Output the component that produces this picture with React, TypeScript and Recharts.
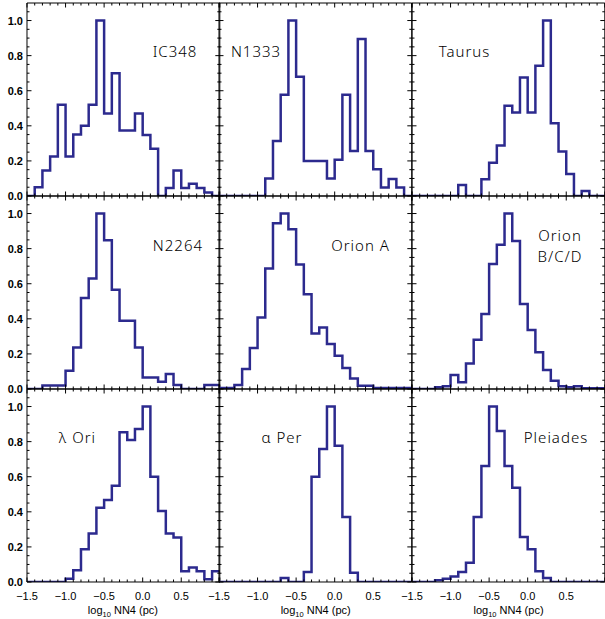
import React from 'react';
import { LineChart, Line, XAxis, YAxis } from 'recharts';

// Bin edges (log10 NN4, pc) — 25 bins of width 0.1 from -1.5 to 1.0
const BIN_EDGES = [-1.5, -1.4, -1.3, -1.2, -1.1, -1.0, -0.9, -0.8, -0.7, -0.6, -0.5, -0.4, -0.3, -0.2, -0.1, 0.0, 0.1, 0.2, 0.3, 0.4, 0.5, 0.6, 0.7, 0.8, 0.9, 1.0];

const X_TICKS = [-1.5, -1.4, -1.3, -1.2, -1.1, -1.0, -0.9, -0.8, -0.7, -0.6, -0.5, -0.4, -0.3, -0.2, -0.1, 0.0, 0.1, 0.2, 0.3, 0.4, 0.5, 0.6, 0.7, 0.8, 0.9, 1.0];
const Y_TICKS = [0, 0.05, 0.1, 0.15, 0.2, 0.25, 0.3, 0.35, 0.4, 0.45, 0.5, 0.55, 0.6, 0.65, 0.7, 0.75, 0.8, 0.85, 0.9, 0.95, 1.0, 1.05];
const X_DOMAIN = [-1.5, 1.0];
const Y_DOMAIN = [0, 1.1];

// Normalised histogram heights per region
const IC348 = [0, 0.05, 0.145, 0.225, 0.52, 0.225, 0.35, 0.40, 0.52, 1.0, 0.47, 0.70, 0.373, 0.373, 0.47, 0.347, 0.27, 0, 0.045, 0.145, 0.045, 0.07, 0.045, 0.02, 0];
const N1333 = [0, 0, 0, 0, 0, 0, 0.10, 0.314, 0.577, 1.0, 0.68, 0.2, 0.2, 0.2, 0.1, 0.206, 0.577, 0.257, 0.895, 0.257, 0.152, 0.048, 0.097, 0.048, 0];
const TAURUS = [0, 0, 0, 0, 0, 0, 0.063, 0, 0, 0.095, 0.19, 0.288, 0.514, 0.476, 0.676, 0.476, 0.743, 1.0, 0.415, 0.253, 0.126, 0, 0.029, 0, 0];
const N2264 = [0, 0, 0.02, 0.02, 0.02, 0.104, 0.237, 0.518, 0.63, 1.0, 0.848, 0.565, 0.389, 0.389, 0.237, 0.066, 0.066, 0.042, 0.085, 0.023, 0, 0, 0, 0.023, 0.023];
const ORION_A = [0.005, 0.005, 0.023, 0.114, 0.233, 0.408, 0.687, 0.945, 1.0, 0.91, 0.71, 0.54, 0.317, 0.351, 0.256, 0.19, 0.12, 0.06, 0.019, 0.019, 0.005, 0.005, 0.005, 0.005, 0.005];
const ORION_BCD = [0, 0, 0, 0.01, 0.015, 0.08, 0.038, 0.146, 0.28, 0.427, 0.712, 0.822, 1.0, 0.844, 0.484, 0.336, 0.209, 0.108, 0.047, 0.015, 0.01, 0.015, 0.004, 0.004, 0.004];
const LAMBDA_ORI = [0, 0, 0, 0, 0, 0.019, 0.067, 0.187, 0.276, 0.423, 0.467, 0.549, 0.853, 0.81, 0.872, 1.0, 0.6, 0.404, 0.276, 0.253, 0.061, 0.082, 0.061, 0.015, 0.061];
const ALPHA_PER = [0, 0, 0, 0, 0, 0, 0, 0, 0.023, 0, 0, 0.057, 0.6, 0.758, 1.0, 0.777, 0.371, 0.053, 0, 0, 0, 0, 0, 0, 0];
const PLEIADES = [0, 0, 0, 0.01, 0.019, 0.032, 0.057, 0.109, 0.371, 0.661, 1.0, 0.861, 0.661, 0.537, 0.257, 0.187, 0.061, 0.023, 0, 0, 0, 0, 0, 0, 0];

const PANEL_NAMES = [['IC348'], ['N1333'], ['Taurus'], ['N2264'], ['Orion A'], ['Orion', 'B/C/D'], ['\u03BB Ori'], ['\u03B1 Per'], ['Pleiades']];
const PANEL_VALUES = [IC348, N1333, TAURUS, N2264, ORION_A, ORION_BCD, LAMBDA_ORI, ALPHA_PER, PLEIADES];
// label anchor (data coords: centre x, baseline y of first line)
const LABEL_POS = [[0.426, 0.795], [-1.024, 0.794], [-0.821, 0.794], [0.464, 0.79], [0.331, 0.79], [0.418, 0.845], [-0.839, 0.794], [-0.687, 0.794], [0.366, 0.794]];

// Layout
const COL_X = [26.5, 219.3, 412.1];
const ROW_Y = [3.3, 196.3, 389.3];
const PW = 192.8;
const PH = 193;
const M = { top: 8, right: 8, bottom: 34, left: 32 };
const AX = 1; // reserved axis thickness
const LINE_COLOR = '#2c2a8e';

const fmt = (v: number) => {
  const s = Math.abs(v).toFixed(1);
  return v < -1e-9 ? '\u2212' + s : s;
};
const isMajor = (v: number, step: number) => Math.abs(v / step - Math.round(v / step)) < 1e-6;

function XTick(props: any) {
  const { x, y, payload, side, showLabel } = props;
  const v = payload.value;
  const major = isMajor(v, 0.5);
  const len = major ? 4.5 : 2.5;
  const dir = side === 'bottom' ? -1 : 1;
  return (
    <g>
      <line x1={x} x2={x} y1={y} y2={y + dir * len} stroke="#000" strokeWidth={1} />
      {showLabel && major && v < 0.99 ? (
        <text x={x} y={y + 18.5} textAnchor="middle" fontSize={11} fontFamily="Liberation Sans, Arial, sans-serif" fill="#000">
          {fmt(v)}
        </text>
      ) : null}
    </g>
  );
}

function YTick(props: any) {
  const { x, y, payload, side, showLabel } = props;
  const v = payload.value;
  const major = isMajor(v, 0.2);
  const len = major ? 4.5 : 2.5;
  const dir = side === 'left' ? 1 : -1;
  return (
    <g>
      <line x1={x} x2={x + dir * len} y1={y} y2={y} stroke="#000" strokeWidth={1} />
      {showLabel && major ? (
        <text x={x - 4} y={y + 4} textAnchor="end" fontSize={11} fontWeight="bold" fontFamily="Liberation Sans, Arial, sans-serif" fill="#000">
          {fmt(v)}
        </text>
      ) : null}
    </g>
  );
}

function Panel({ idx }: { idx: number }) {
  const col = idx % 3;
  const row = Math.floor(idx / 3);
  const vals = PANEL_VALUES[idx];
  const data = BIN_EDGES.map((e, i) => ({ x: e, y: vals[Math.min(i, vals.length - 1)] }));
  return (
    <div style={{ position: 'absolute', left: COL_X[col] - M.left - AX, top: ROW_Y[row] - M.top - AX }}>
      <LineChart width={PW + M.left + M.right + 2 * AX} height={PH + M.top + M.bottom + 2 * AX} data={data} margin={M}>
        <XAxis xAxisId="b" dataKey="x" type="number" domain={X_DOMAIN} ticks={X_TICKS} interval={0} orientation="bottom" height={AX}
          tickSize={0} tickMargin={0} tickLine={false} axisLine={{ stroke: '#000', strokeWidth: 1 }} allowDataOverflow
          tick={(p: any) => <XTick {...p} side="bottom" showLabel={row === 2} />} />
        <XAxis xAxisId="t" dataKey="x" type="number" domain={X_DOMAIN} ticks={X_TICKS} interval={0} orientation="top" height={AX}
          tickSize={0} tickMargin={0} tickLine={false} axisLine={{ stroke: '#000', strokeWidth: 1 }} allowDataOverflow
          tick={(p: any) => <XTick {...p} side="top" showLabel={false} />} />
        <YAxis yAxisId="l" type="number" domain={Y_DOMAIN} ticks={Y_TICKS} interval={0} orientation="left" width={AX}
          tickSize={0} tickMargin={0} tickLine={false} axisLine={{ stroke: '#000', strokeWidth: 1 }} allowDataOverflow
          tick={(p: any) => <YTick {...p} side="left" showLabel={col === 0} />} />
        <YAxis yAxisId="r" type="number" domain={Y_DOMAIN} ticks={Y_TICKS} interval={0} orientation="right" width={AX}
          tickSize={0} tickMargin={0} tickLine={false} axisLine={{ stroke: '#000', strokeWidth: 1 }} allowDataOverflow
          tick={(p: any) => <YTick {...p} side="right" showLabel={false} />} />
        <Line xAxisId="b" yAxisId="l" dataKey="y" type="stepAfter" stroke={LINE_COLOR} strokeWidth={2.5} dot={false}
          activeDot={false} isAnimationActive={false} />
        <Line xAxisId="t" yAxisId="r" dataKey="y" type="stepAfter" stroke="none" dot={false} activeDot={false} isAnimationActive={false} />
      </LineChart>
    </div>
  );
}

const toPx = (idx: number, xv: number, yv: number) => {
  const col = idx % 3;
  const row = Math.floor(idx / 3);
  const px = COL_X[col] + ((xv - X_DOMAIN[0]) / (X_DOMAIN[1] - X_DOMAIN[0])) * PW;
  const py = ROW_Y[row] + PH - ((yv - Y_DOMAIN[0]) / (Y_DOMAIN[1] - Y_DOMAIN[0])) * PH;
  return [px, py];
};

export default function App() {
  return (
    <div style={{ position: 'absolute', left: 0, top: 0, width: 605, height: 619, background: '#fff', overflow: 'hidden' }}>
      {PANEL_VALUES.map((_, i) => (
        <Panel key={i} idx={i} />
      ))}
      <svg width={605} height={619} style={{ position: 'absolute', left: 0, top: 0, pointerEvents: 'none' }}>
        {PANEL_NAMES.map((lines, i) => {
          const [px, py] = toPx(i, LABEL_POS[i][0], LABEL_POS[i][1]);
          return (
            <text key={'lbl' + i} x={px} y={py} textAnchor="middle" fontSize={15} fontWeight={300}
              fontFamily="Noto Sans, DejaVu Sans, sans-serif" letterSpacing={1} fill="#000">
              {lines.map((t, j) => (
                <tspan key={j} x={px} dy={j === 0 ? 0 : 20.6}>{t}</tspan>
              ))}
            </text>
          );
        })}
        {COL_X.map((cx, c) => (
          <text key={'xt' + c} x={cx + PW / 2} y={614} textAnchor="middle" fontSize={11} fontFamily="Liberation Sans, Arial, sans-serif" fill="#000">
            log
            <tspan fontSize={7.5} dy={2.5}>10</tspan>
            <tspan dy={-2.5}> NN4 (pc)</tspan>
          </text>
        ))}
      </svg>
    </div>
  );
}
